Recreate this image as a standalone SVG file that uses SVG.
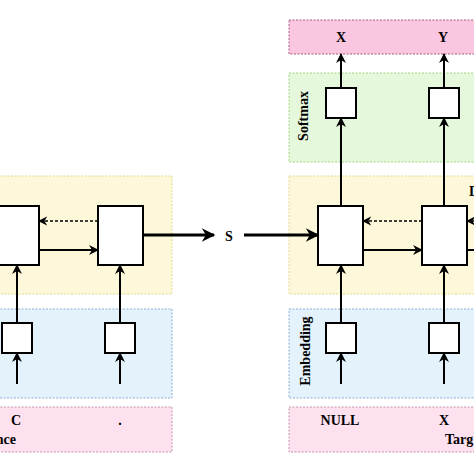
<svg xmlns="http://www.w3.org/2000/svg" width="474" height="474" viewBox="0 0 474 474">
<style>
.t{font-family:"Liberation Serif","Times New Roman",serif;font-weight:bold;font-size:14px;fill:#000}
.c{fill:#fff;stroke:#000;stroke-width:2}
.a{fill:none;stroke:#000;stroke-width:2}
.d{fill:none;stroke:#000;stroke-width:1.3;stroke-dasharray:3,2}
.w{fill:none;stroke:#000;stroke-width:3}
.yel{fill:#fdf8d9;stroke:#e3d98e;stroke-width:1;stroke-dasharray:2,1.5}
.blu{fill:#e4f2fc;stroke:#8db0d4;stroke-width:1;stroke-dasharray:2,1.5}
.pnk{fill:#fde1ef;stroke:#c493ad;stroke-width:1;stroke-dasharray:2,1.5}
.pnk2{fill:#fbc6df;stroke:#a85a80;stroke-width:1;stroke-dasharray:2,1.5}
.grn{fill:#e5f8dc;stroke:#9fd783;stroke-width:1;stroke-dasharray:2,1.5}
</style>
<defs>
<marker id="ah" viewBox="0 0 10 10" refX="9" refY="5" markerWidth="5" markerHeight="5" orient="auto" markerUnits="strokeWidth">
<path d="M0,0 L10,5 L0,10 L3,5 z" fill="#000"/>
</marker>
<marker id="ahd" viewBox="0 0 10 10" refX="9" refY="5" markerWidth="7" markerHeight="7" orient="auto" markerUnits="strokeWidth">
<path d="M0,0 L10,5 L0,10 L3,5 z" fill="#000"/>
</marker>
<marker id="ahw" viewBox="0 0 10 10" refX="9" refY="5" markerWidth="5" markerHeight="4.5" orient="auto" markerUnits="strokeWidth">
<path d="M0,0 L10,5 L0,10 L3,5 z" fill="#000"/>
</marker>
</defs>
<g id="regions">
<rect class="yel" x="-10" y="176" width="182" height="118"/>
<rect class="blu" x="-10" y="309" width="182" height="89"/>
<rect class="pnk" x="-10" y="407" width="182" height="45"/>
<rect class="pnk2" x="289" y="20" width="200" height="34"/>
<rect class="grn" x="289" y="73" width="200" height="89"/>
<rect class="yel" x="289" y="176" width="200" height="118"/>
<rect class="blu" x="289" y="309" width="200" height="89"/>
<rect class="pnk" x="289" y="407" width="200" height="45"/>
</g>
<g id="labels">
<text class="t" x="16" y="425" text-anchor="middle">C</text>
<text class="t" x="120" y="425" text-anchor="middle">.</text>
<text class="t" x="16" y="444" text-anchor="end">nce</text>
<text class="t" x="340" y="425" text-anchor="middle">NULL</text>
<text class="t" x="444" y="425" text-anchor="middle">X</text>
<text class="t" x="445" y="444">Targ</text>
<text class="t" x="341" y="42" text-anchor="middle">X</text>
<text class="t" x="443" y="42" text-anchor="middle">Y</text>
<text class="t" x="229" y="241" text-anchor="middle">S</text>
<text class="t" x="469" y="196">D</text>
<text class="t" transform="translate(308,116) rotate(-90)" text-anchor="middle">Softmax</text>
<text class="t" transform="translate(310,351) rotate(-90)" text-anchor="middle">Embedding</text>
</g>
<g id="enc-cell-1"><rect class="c" x="-6" y="206" width="45" height="59"/></g>
<g id="enc-cell-2"><rect class="c" x="98" y="206" width="45" height="59"/></g>
<g id="enc-emb-1"><rect class="c" x="2" y="323" width="30" height="30"/></g>
<g id="enc-emb-2"><rect class="c" x="105" y="323" width="30" height="30"/></g>
<g id="dec-cell-1"><rect class="c" x="318" y="206" width="45" height="59"/></g>
<g id="dec-cell-2"><rect class="c" x="422" y="206" width="45" height="59"/></g>
<g id="dec-emb-1"><rect class="c" x="326" y="323" width="30" height="30"/></g>
<g id="dec-emb-2"><rect class="c" x="429" y="323" width="30" height="30"/></g>
<g id="dec-soft-1"><rect class="c" x="326" y="88" width="30" height="30"/></g>
<g id="dec-soft-2"><rect class="c" x="429" y="88" width="30" height="30"/></g>
<g id="connectors">
<line class="a" x1="17" y1="384" x2="17" y2="353" marker-end="url(#ah)"/>
<line class="a" x1="17" y1="323" x2="17" y2="265" marker-end="url(#ah)"/>
<line class="a" x1="120" y1="384" x2="120" y2="353" marker-end="url(#ah)"/>
<line class="a" x1="120" y1="323" x2="120" y2="265" marker-end="url(#ah)"/>
<line class="a" x1="39" y1="250" x2="98" y2="250" marker-end="url(#ah)"/>
<line class="d" x1="98" y1="221" x2="39" y2="221" marker-end="url(#ahd)"/>
<line class="w" x1="143" y1="235" x2="214" y2="235" marker-end="url(#ahw)"/>
<line class="w" x1="244" y1="235" x2="318" y2="235" marker-end="url(#ahw)"/>
<line class="a" x1="341" y1="384" x2="341" y2="353" marker-end="url(#ah)"/>
<line class="a" x1="341" y1="323" x2="341" y2="265" marker-end="url(#ah)"/>
<line class="a" x1="444" y1="384" x2="444" y2="353" marker-end="url(#ah)"/>
<line class="a" x1="444" y1="323" x2="444" y2="265" marker-end="url(#ah)"/>
<line class="a" x1="341" y1="206" x2="341" y2="118" marker-end="url(#ah)"/>
<line class="a" x1="341" y1="88" x2="341" y2="54" marker-end="url(#ah)"/>
<line class="a" x1="444" y1="206" x2="444" y2="118" marker-end="url(#ah)"/>
<line class="a" x1="444" y1="88" x2="444" y2="54" marker-end="url(#ah)"/>
<line class="a" x1="363" y1="250" x2="422" y2="250" marker-end="url(#ah)"/>
<line class="d" x1="422" y1="221" x2="363" y2="221" marker-end="url(#ahd)"/>
<line class="d" x1="490" y1="221" x2="467" y2="221" marker-end="url(#ahd)"/>
<line class="a" x1="467" y1="250" x2="480" y2="250"/>
</g>
</svg>
